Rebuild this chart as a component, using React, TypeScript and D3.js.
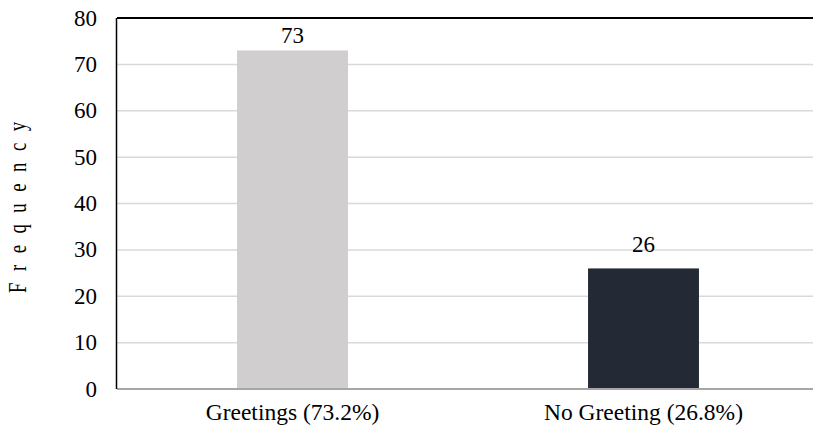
import * as d3 from 'd3'

const categories = ['Greetings (73.2%)', 'No Greeting (26.8%)']
const values = [73, 26]
const barColors = ['#d0cecf', '#242a35']
const yTicks = [0, 10, 20, 30, 40, 50, 60, 70, 80]
const yTitle = 'Frequency'

const font = "'Liberation Serif', 'Times New Roman', serif"

const App = () => {
    const width = 813
    const height = 433
    const margin = { top: 18, right: -6, bottom: 44, left: 117 }

    const x = d3
        .scaleBand<string>()
        .domain(categories)
        .range([margin.left, width - margin.right])
        .paddingInner(0.684)
        .paddingOuter(0.342)

    const y = d3
        .scaleLinear()
        .domain([0, 80])
        .range([height - margin.bottom, margin.top])

    return (
        <svg
            width={width}
            height={height}
            style={{ position: 'absolute', left: 0, top: 0, background: '#fff' }}
            fontFamily={font}
        >
            {/* grid */}
            {yTicks.filter(t => t > 0 && t < 80).map(t => (
                <line key={t} x1={margin.left} x2={width} y1={y(t)} y2={y(t)} stroke="#d9d9d9" strokeWidth={1.5} />
            ))}

            {/* bars */}
            {values.map((v, i) => (
                <rect
                    key={categories[i]}
                    x={x(categories[i])}
                    y={y(v)}
                    width={x.bandwidth()}
                    height={y(0) - y(v)}
                    fill={barColors[i]}
                />
            ))}

            {/* value labels, kept below the top frame */}
            {values.map((v, i) => (
                <text
                    key={'v' + i}
                    x={(x(categories[i]) ?? 0) + x.bandwidth() / 2}
                    y={Math.max(y(v) - 16.5, margin.top + 25)}
                    textAnchor="middle"
                    fontSize={23}
                >
                    {v}
                </text>
            ))}

            {/* zero line + frame */}
            <line x1={margin.left} x2={width} y1={y(0)} y2={y(0)} stroke="#a6a6a6" strokeWidth={2} />
            <line x1={margin.left} x2={width} y1={margin.top} y2={margin.top} stroke="#000" strokeWidth={2} />
            <line x1={margin.left - 0.5} x2={margin.left - 0.5} y1={margin.top} y2={y(0)} stroke="#000" strokeWidth={1.5} />

            {/* y ticks */}
            {yTicks.map(t => (
                <text key={'t' + t} x={97} y={y(t)} dy="0.33em" textAnchor="end" fontSize={23}>
                    {t}
                </text>
            ))}

            {/* x labels */}
            {categories.map(c => (
                <text key={c} x={(x(c) ?? 0) + x.bandwidth() / 2} y={420} textAnchor="middle" fontSize={23.5}>
                    {c}
                </text>
            ))}

            {/* y title, squeezed along the text like the original */}
            <text
                transform={`translate(26,293) rotate(-90) scale(0.72,1)`}
                textAnchor="start"
                fontSize={26}
                letterSpacing={16}
            >
                {yTitle}
            </text>
        </svg>
    )
}

export default App
